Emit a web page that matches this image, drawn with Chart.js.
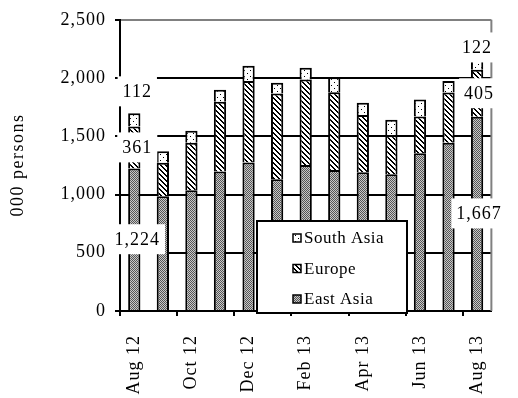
<!DOCTYPE html>
<html>
<head>
<meta charset="utf-8">
<script src="https://cdn.jsdelivr.net/npm/chart.js@4.4.1/dist/chart.umd.min.js"></script>
<style>
    body { margin: 0; background: #fff; }
    #wrap { width: 518px; height: 398px; position: relative; }
</style>
</head>
<body>
<div id="wrap"><canvas id="arrivalsChart"></canvas></div>
<script>
const months = ["Aug 12", "Sep 12", "Oct 12", "Nov 12", "Dec 12", "Jan 13", "Feb 13",
                "Mar 13", "Apr 13", "May 13", "Jun 13", "Jul 13", "Aug 13"];
const eastAsia  = [1224, 986, 1036, 1197, 1275, 1132, 1253, 1210, 1191, 1174, 1354, 1444, 1667];
const europe    = [361, 287, 408, 599, 699, 735, 734, 668, 492, 335, 316, 431, 405];
const southAsia = [112, 98, 104, 104, 132, 92, 102, 129, 105, 132, 146, 99, 122];
const yTicks = [0, 500, 1000, 1500, 2000, 2500];

const FONT = "'Liberation Serif', 'Times New Roman', serif";

// little canvas tiles for the hatch fills
function makePattern(kind) {
    const c = document.createElement("canvas");
    const g = c.getContext("2d");
    if (kind === "dots") {
        c.width = 2; c.height = 2;
        g.fillStyle = "#c8c8c8"; g.fillRect(0, 0, 2, 2);
        g.fillStyle = "#555"; g.fillRect(0, 0, 1, 1); g.fillRect(1, 1, 1, 1);
    } else if (kind === "stripes") {
        c.width = 5; c.height = 5;
        g.fillStyle = "#fff"; g.fillRect(0, 0, 5, 5);
        g.fillStyle = "#000";
        for (let i = 0; i < 5; i++) {
            g.fillRect(i, i, 1, 1);
            g.fillRect((i + 1) % 5, i, 1, 1);
        }
    } else {
        c.width = 6; c.height = 6;
        g.fillStyle = "#fff"; g.fillRect(0, 0, 6, 6);
        g.fillStyle = "#000";
        g.fillRect(1, 1, 1, 1);
        g.fillRect(4, 4, 1, 1);
    }
    return g.createPattern(c, "repeat");
}

const fmt = v => v.toLocaleString("en-US");

// value labels on first and last bar
const valueLabels = {
    id: "valueLabels",
    afterDatasetsDraw(chart) {
        const ctx = chart.ctx;
        const last = months.length - 1;
        ctx.save();
        ctx.font = "18px " + FONT;
        ctx.letterSpacing = "1px";
        ctx.textAlign = "center";
        ctx.textBaseline = "middle";
        chart.data.datasets.forEach((ds, di) => {
            const meta = chart.getDatasetMeta(di);
            [0, last].forEach(i => {
                const el = meta.data[i];
                let y = (el.y + el.base) / 2;
                let x = el.x;
                if (di === 2) y = i === 0 ? el.y - 22 : el.y - 8;
                if (i === 0) x += 3; else if (di !== 2) x += 2;
                const txt = fmt(ds.data[i]);
                const w = ctx.measureText(txt).width + 10;
                ctx.fillStyle = "#fff";
                ctx.fillRect(x - w / 2, y - 15, w, 30);
                ctx.fillStyle = "#000";
                ctx.fillText(txt, x, y + 1);
            });
        });
        ctx.restore();
    }
};

// frame bits + legend box + y title
const decorations = {
    id: "decorations",
    beforeDraw(chart) {
        chart.ctx.letterSpacing = "1px";
    },
    beforeDatasetsDraw(chart) {
        const a = chart.chartArea, ctx = chart.ctx;
        ctx.save();
        ctx.strokeStyle = "#808080";
        ctx.lineWidth = 2;
        ctx.beginPath();
        ctx.moveTo(a.right, a.top);
        ctx.lineTo(a.right, a.bottom);
        ctx.stroke();
        ctx.restore();
    },
    afterDraw(chart) {
        const ctx = chart.ctx;
        ctx.save();
        // legend
        const lx = 257, ly = 221, lw = 150, lh = 92;
        ctx.fillStyle = "#fff";
        ctx.fillRect(lx, ly, lw, lh);
        ctx.strokeStyle = "#000";
        ctx.lineWidth = 2;
        ctx.strokeRect(lx, ly, lw, lh);
        ctx.font = "17px " + FONT;
        ctx.letterSpacing = "0.5px";
        ctx.textBaseline = "middle";
        const items = chart.data.datasets.slice().reverse();
        items.forEach((ds, k) => {
            const cy = ly + 17 + k * 30.5;
            ctx.fillStyle = ds.backgroundColor;
            ctx.fillRect(lx + 36, cy - 4, 8, 8);
            ctx.lineWidth = 1.5;
            ctx.strokeRect(lx + 36, cy - 4, 8, 8);
            ctx.fillStyle = "#000";
            ctx.fillText(ds.label, lx + 47, cy + 1);
        });
        // y axis title
        ctx.translate(18, 165);
        ctx.rotate(-Math.PI / 2);
        ctx.textAlign = "center";
        ctx.font = "18px " + FONT;
        ctx.letterSpacing = "1.5px";
        ctx.fillText("000 persons", 0, 0);
        ctx.restore();
    }
};

new Chart(document.getElementById("arrivalsChart"), {
    type: "bar",
    data: {
        labels: months,
        datasets: [
            { label: "East Asia", data: eastAsia, backgroundColor: makePattern("dots"),
              borderColor: "#000", borderWidth: 2 },
            { label: "Europe", data: europe, backgroundColor: makePattern("stripes"),
              borderColor: "#000", borderWidth: 2 },
            { label: "South Asia", data: southAsia, backgroundColor: makePattern("sparse"),
              borderColor: "#000", borderWidth: 2 }
        ]
    },
    options: {
        responsive: true,
        maintainAspectRatio: false,
        animation: false,
        layout: { padding: { top: 15, right: 8, left: 0, bottom: 0 } },
        datasets: { bar: { categoryPercentage: 1, barPercentage: 0.43 } },
        plugins: { legend: { display: false }, tooltip: { enabled: false } },
        scales: {
            x: {
                stacked: true,
                offset: true,
                afterFit: s => { s.height = 87; },
                border: { color: "#000", width: 2 },
                grid: {
                    offset: true,
                    drawOnChartArea: false,
                    tickLength: 5,
                    lineWidth: 2,
                    color: c => (c.index % 2 === 0 ? "#000" : "rgba(0,0,0,0)")
                },
                ticks: {
                    autoSkip: false,
                    minRotation: 90,
                    maxRotation: 90,
                    padding: 19,
                    color: "#000",
                    font: { family: FONT, size: 18 },
                    callback: (v, i) => (i % 2 === 0 ? months[i] : "")
                }
            },
            y: {
                stacked: true,
                min: yTicks[0],
                max: yTicks[yTicks.length - 1],
                afterFit: s => { s.width = 120; },
                afterBuildTicks: s => { s.ticks = yTicks.map(v => ({ value: v })); },
                border: { color: "#000", width: 2 },
                grid: {
                    tickLength: 5,
                    lineWidth: 2,
                    color: c => (c.tick && c.tick.value === 2500 ? "#808080" : "#000"),
                    tickColor: "#000"
                },
                ticks: {
                    padding: 9,
                    color: "#000",
                    font: { family: FONT, size: 18 },
                    callback: v => fmt(v)
                }
            }
        }
    },
    plugins: [decorations, valueLabels]
});
</script>
</body>
</html>
